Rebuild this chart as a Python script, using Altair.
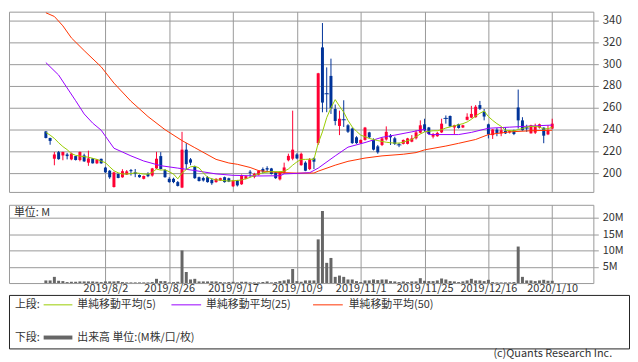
import altair as alt
import pandas as pd

# ---- data (price in yen, volume in millions) ----
idx = list(range(-14, 106))  # trading-day index, 0 = 2019/8/2

open_ = [238.4, 232.4, 213.4, 219.4, 216.4, 217.3, 212.8, 215.8, 212.2, 216.4, 209.8, 213.7, 209.2, 213.3,
         205.3, 202.4, 187.5, 199.4, 196.4, 198.9, 203.0, 201.0, 198.5, 195.0, 199.4, 198.0, 204.5, 215.8,
         203.0, 195.0, 195.0, 192.0, 187.0, 221.7, 212.8, 206.0, 196.5, 195.8, 196.5, 194.0, 192.0, 193.5,
         196.5, 195.5, 188.2, 193.5, 190.0, 195.0, 201.5, 197.0, 198.8, 203.9, 204.8, 204.5, 200.9, 194.5,
         200.9, 212.0, 213.4, 217.3, 207.5, 209.8, 203.9, 213.7, 227.7, 315.3, 273.4, 289.2, 258.9, 243.4,
         249.5, 244.0, 241.0, 233.0, 227.7, 230.6, 237.5, 230.6, 224.7, 226.0, 231.0, 234.5, 232.1, 226.6,
         227.0, 227.0, 229.0, 232.1, 237.2, 244.9, 242.0, 233.6, 234.0, 237.5, 250.8, 252.5, 242.0, 245.0,
         242.0, 249.0, 251.0, 251.4, 262.5, 256.5, 244.9, 235.0, 240.0, 236.6, 239.0, 237.5, 239.5, 260.3,
         248.5, 242.0, 236.6, 237.2, 241.9, 241.9, 235.7, 241.0]
close = [232.4, 229.7, 217.3, 213.0, 219.6, 215.8, 218.1, 212.2, 219.6, 211.0, 213.7, 209.2, 212.8, 209.2,
         200.9, 196.4, 200.9, 195.8, 202.0, 201.8, 202.0, 199.5, 196.5, 197.6, 197.4, 204.5, 213.4, 204.0,
         196.5, 192.0, 192.0, 188.5, 221.7, 208.4, 209.8, 195.6, 193.0, 193.5, 192.0, 191.0, 195.0, 195.6,
         192.0, 192.5, 193.5, 189.0, 198.0, 197.4, 200.5, 199.4, 202.4, 201.8, 203.5, 199.4, 195.6, 201.5,
         205.4, 216.0, 221.7, 213.7, 217.9, 202.4, 212.8, 210.7, 291.6, 264.8, 272.8, 259.5, 247.9, 250.0,
         249.0, 238.1, 227.7, 227.7, 230.6, 241.9, 233.0, 221.7, 219.3, 232.0, 238.0, 233.0, 227.0, 226.0,
         230.6, 232.0, 232.0, 237.5, 244.0, 239.5, 236.0, 236.0, 237.0, 245.5, 250.2, 243.0, 244.0, 241.5,
         244.0, 251.8, 254.4, 261.0, 259.2, 252.0, 235.7, 240.2, 237.0, 239.5, 236.6, 239.0, 236.0, 248.5,
         239.5, 241.4, 244.0, 242.5, 244.9, 234.5, 239.5, 245.5]
high = [238.8, 232.6, 219.6, 220.5, 219.8, 218.7, 219.0, 216.0, 220.0, 218.0, 220.8, 214.0, 213.0, 213.5,
        206.0, 203.0, 201.5, 200.0, 203.8, 203.0, 204.0, 204.0, 199.0, 198.0, 201.0, 205.0, 219.7, 219.4,
        204.0, 196.5, 196.0, 193.0, 238.0, 227.7, 214.0, 207.0, 197.0, 197.0, 197.5, 195.5, 195.5, 196.0,
        197.0, 196.0, 194.0, 194.0, 199.0, 198.0, 203.0, 200.5, 203.0, 205.4, 206.5, 205.0, 201.5, 202.0,
        209.8, 218.0, 257.4, 218.5, 219.0, 211.0, 214.0, 214.5, 292.0, 337.6, 297.0, 305.0, 263.0, 257.4,
        266.9, 245.0, 242.0, 234.0, 231.0, 242.5, 238.0, 232.0, 226.0, 233.0, 243.0, 236.0, 233.5, 228.0,
        231.0, 232.5, 235.0, 239.5, 248.5, 250.0, 242.5, 237.0, 238.0, 250.0, 253.0, 253.0, 244.5, 245.5,
        244.5, 255.0, 261.8, 262.5, 266.3, 258.9, 245.5, 240.5, 241.5, 242.5, 242.0, 239.5, 240.0, 276.7,
        251.4, 244.5, 244.5, 245.5, 245.5, 242.0, 244.0, 250.0]
low = [232.0, 226.2, 207.4, 212.5, 212.0, 212.8, 212.0, 211.8, 211.0, 210.5, 206.9, 209.0, 208.5, 208.8,
       200.5, 195.0, 187.0, 195.5, 196.0, 198.5, 198.0, 196.5, 196.0, 194.5, 196.5, 197.0, 204.0, 203.5,
       196.0, 191.4, 191.0, 188.0, 186.5, 203.9, 207.5, 195.0, 192.5, 192.5, 191.5, 189.5, 191.5, 193.0,
       191.5, 192.0, 187.5, 188.0, 189.5, 194.5, 196.5, 195.5, 198.0, 200.0, 201.0, 199.0, 195.0, 193.5,
       199.4, 211.0, 212.0, 213.0, 207.0, 202.0, 203.0, 203.9, 226.0, 255.9, 256.0, 254.4, 244.0, 235.0,
       242.5, 237.0, 227.0, 227.0, 227.0, 230.0, 232.0, 221.0, 218.0, 225.0, 230.0, 226.0, 226.0, 224.0,
       226.5, 226.5, 228.5, 231.0, 236.5, 238.0, 235.5, 232.0, 233.5, 237.0, 245.5, 242.5, 236.0, 241.0,
       241.5, 248.5, 250.5, 251.0, 258.0, 248.5, 232.0, 231.5, 234.0, 234.0, 236.0, 236.5, 235.0, 241.0,
       239.0, 238.0, 236.5, 236.0, 241.0, 227.6, 235.0, 240.5]
vol = [0.8, 0.8, 1.9, 0.7, 0.6, 0.3, 0.4, 0.4, 0.5, 0.5, 0.5, 0.5, 0.4, 0.3,
       0.5, 0.5, 0.5, 0.6, 0.3, 0.2, 0.2, 0.2, 0.2, 0.2, 0.2, 0.3, 1.3, 0.6,
       0.6, 0.2, 0.3, 0.4, 10.0, 3.4, 1.1, 1.3, 0.5, 0.5, 0.5, 0.5, 0.5, 0.3,
       0.2, 0.3, 0.4, 0.2, 0.4, 0.4, 0.2, 0.2, 0.2, 0.3, 0.5, 0.2, 0.3, 0.6,
       0.8, 1.1, 4.3, 0.6, 0.4, 0.8, 0.8, 0.8, 13.4, 22.1, 6.2, 7.7, 1.9, 2.3,
       1.9, 1.1, 1.1, 0.6, 0.3, 0.8, 0.8, 1.1, 0.9, 1.1, 1.1, 0.6, 0.5, 0.3,
       0.5, 0.3, 0.5, 0.5, 1.5, 0.7, 0.6, 0.6, 0.8, 1.4, 1.1, 0.6, 0.5, 0.3,
       0.5, 0.8, 1.3, 0.8, 0.8, 0.6, 1.0, 0.3, 0.2, 0.2, 0.2, 0.2, 0.3, 11.2,
       1.9, 0.8, 0.8, 0.6, 0.8, 1.0, 0.7, 0.7]
ma5 = [237.5, 235.0, 232.0, 228.0, 224.5, 221.7, 218.1, 216.5, 215.8, 215.3, 214.8, 213.8, 212.8, 211.2,
       209.8, 206.0, 202.4, 200.5, 199.4, 199.4, 199.8, 200.5, 200.0, 199.4, 199.2, 200.9, 203.9, 203.0,
       203.3, 201.5, 199.4, 195.0, 200.3, 203.5, 206.0, 206.5, 205.0, 200.5, 196.5, 195.0, 194.0, 193.8,
       193.3, 193.0, 193.2, 193.5, 194.0, 195.0, 196.3, 198.0, 199.5, 200.5, 201.2, 201.5, 201.6, 201.5,
       202.0, 204.0, 207.5, 210.5, 212.8, 212.8, 213.0, 212.8, 227.5, 238.0, 251.0, 260.0, 267.5, 261.5,
       256.0, 248.5, 242.5, 238.5, 235.0, 233.5, 232.0, 231.0, 230.0, 229.2, 228.5, 228.0, 227.7, 227.7,
       228.5, 230.0, 231.0, 233.6, 236.0, 238.0, 238.5, 239.0, 239.0, 240.0, 241.5, 242.5, 243.5, 244.5,
       245.5, 247.0, 249.5, 252.5, 255.0, 257.0, 252.0, 248.5, 245.5, 243.0, 239.5, 239.0, 239.0, 240.1,
       241.0, 242.5, 243.0, 243.0, 242.5, 240.5, 241.0, 242.0]
ma25_idx = [-14, -11, -9, -7, -5, -3, -1, 0, 2, 4, 6, 9, 13, 17, 21, 26, 30, 36, 41, 42, 45, 48, 50,
            54, 57, 61, 65, 68, 72, 75, 76, 83, 86, 90, 95, 100, 105]
ma25_val = [301.4, 290.0, 278.2, 266.5, 254.4, 246.0, 239.5, 234.0, 223.0, 219.5, 216.0, 211.3, 207.0,
            204.8, 202.6, 199.5, 198.2, 197.6, 197.8, 199.5, 200.0, 200.6, 204.8, 216.0, 224.0, 228.2,
            233.0, 235.0, 238.0, 240.3, 235.5, 235.5, 237.5, 241.3, 242.3, 243.3, 244.2]
ma50_idx = [-14, -12, -10, -8, -5, -1, 2, 6, 10, 14, 18, 21, 26, 29, 31, 34, 36, 40, 45, 49, 50, 54,
            57, 61, 65, 70, 73, 75, 80, 83, 87, 90, 95, 100, 105]
ma50_val = [347.0, 343.6, 335.0, 324.0, 312.4, 297.5, 282.6, 266.0, 252.0, 240.0, 230.0, 223.5, 212.8,
            209.5, 208.3, 205.4, 202.5, 201.0, 200.2, 200.3, 202.0, 207.5, 211.0, 214.0, 216.0, 217.5,
            219.0, 221.5, 225.0, 227.5, 231.0, 235.5, 238.0, 239.0, 239.5]

tick_idx = [0, 15, 30, 45, 60, 75, 90, 105]
tick_labels = ["2019/8/2", "2019/8/26", "2019/9/17", "2019/10/9", "2019/11/1",
               "2019/11/25", "2019/12/16", "2020/1/10"]
price_ticks = [200, 220, 240, 260, 280, 300, 320, 340]
vol_ticks = [5, 10, 15, 20]

legend_top = "上段:"
legend_bottom = "下段:"
ma_names = ["単純移動平均(5)", "単純移動平均(25)", "単純移動平均(50)"]
vol_name = "出来高 単位:(M株/口/枚)"
unit_label = "単位: M"
copyright_text = "(c)Quants Research Inc."

# ---- styles ----
RED, BLUE = "#ff0033", "#003399"
C5, C25, C50 = "#99cc00", "#9900ff", "#ff3300"
GRID = "#999999"
TXT = "#333333"
FONT = "Noto Sans CJK JP"

df = pd.DataFrame(dict(idx=idx, open=open_, high=high, low=low, close=close, vol=vol, ma5=ma5))
df25 = pd.DataFrame(dict(idx=ma25_idx, val=ma25_val))
df50 = pd.DataFrame(dict(idx=ma50_idx, val=ma50_val))

xscale = alt.Scale(domain=[-21.5, 113.5], nice=False, zero=False)
label_expr = ("[" + ",".join(f"'{s}'" for s in tick_labels) + "][indexof(["
              + ",".join(str(v) for v in tick_idx) + "], datum.value)]")

x_axis_main = alt.Axis(values=tick_idx, labels=False, ticks=False, domain=False,
                       grid=True, gridColor=GRID, gridOpacity=1, title=None)
yscale = alt.Scale(domain=[183, 348], nice=False, zero=False)
y_axis = alt.Axis(orient="right", values=price_ticks, tickCount=8, grid=True, gridColor=GRID,
                  gridOpacity=1, tickColor=GRID, tickSize=5, domain=False, labelFontSize=11.5,
                  labelColor=TXT, labelPadding=4, labelOverlap=False, labelFlush=False, title=None)
color_cond = alt.condition("datum.close >= datum.open", alt.value(RED), alt.value(BLUE))


def X():
    return alt.X("idx:Q", scale=xscale, axis=x_axis_main)


def Y(field):
    return alt.Y(field, type="quantitative", scale=yscale, axis=y_axis)


base = alt.Chart(df)
wick = base.mark_rule(strokeWidth=1).encode(x=X(), y=Y("low"), y2="high:Q", color=color_cond)
body = base.mark_bar(size=3, strokeWidth=0).encode(x=X(), y=Y("open"), y2="close:Q",
                                                   color=color_cond)
cross = base.transform_filter("abs(datum.open - datum.close) < 1").mark_tick(
    orient="horizontal", size=5, thickness=1).encode(x=X(), y=Y("close"), color=color_cond)
line50 = alt.Chart(df50).mark_line(color=C50, strokeWidth=1).encode(x=X(), y=Y("val"))
line25 = alt.Chart(df25).mark_line(color=C25, strokeWidth=1).encode(x=X(), y=Y("val"))
line5 = base.mark_line(color=C5, strokeWidth=1).encode(x=X(), y=Y("ma5"))

main = alt.layer(wick, body, cross, line50, line25, line5).properties(
    width=590, height=182, view=alt.ViewBackground(stroke=GRID))

vbars = base.mark_bar(size=3, color="#666666").encode(
    x=alt.X("idx:Q", scale=xscale,
            axis=alt.Axis(values=tick_idx, labelExpr=label_expr, ticks=False, tickSize=0,
                          domain=False, grid=True, gridColor=GRID, gridOpacity=1,
                          labelFontSize=11, labelColor=TXT, labelBaseline="middle",
                          labelPadding=6, labelOverlap=False, title=None)),
    y=alt.Y("vol:Q", scale=alt.Scale(domain=[0, 24], nice=False),
            axis=alt.Axis(orient="right", values=vol_ticks, labelExpr="datum.value + 'M'",
                          grid=True, gridColor=GRID, gridOpacity=1, tickColor=GRID, tickSize=5,
                          domain=False, labelFontSize=11, labelColor=TXT, labelPadding=4,
                          labelOverlap=False, labelFlush=False, title=None)))
unit = alt.Chart(pd.DataFrame({"t": [unit_label]})).mark_text(
    align="left", baseline="middle", fontSize=11, color=TXT).encode(
    text="t:N", x=alt.value(5), y=alt.value(8))
volume = alt.layer(vbars, unit).properties(width=590, height=79,
                                           view=alt.ViewBackground(stroke=GRID))


def txt(s, x, y, align="left"):
    return alt.Chart(pd.DataFrame({"t": [s]})).mark_text(
        align=align, baseline="middle", fontSize=11, color=TXT).encode(
        text="t:N", x=alt.value(x), y=alt.value(y))


def seg(color, x1, x2, y, w=1):
    return alt.Chart(pd.DataFrame({"t": [0]})).mark_rule(color=color, strokeWidth=w).encode(
        x=alt.value(x1), x2=alt.value(x2), y=alt.value(y))


legend = alt.layer(
    txt(legend_top, 6, 10),
    seg(C5, 35, 64, 10), txt(ma_names[0], 69, 10),
    seg(C25, 164, 194, 10), txt(ma_names[1], 199, 10),
    seg(C50, 307, 337, 10), txt(ma_names[2], 343, 10),
    txt(legend_bottom, 6, 43),
    seg("#666666", 35, 64, 43, 4), txt(vol_name, 69, 43),
    txt(copyright_text, 609, 60, "right"),
).properties(width=626, height=54, view=alt.ViewBackground(stroke="#222222"))

chart = alt.vconcat(alt.vconcat(main, volume, spacing=11), legend, spacing=-3).properties(
    padding=0).configure(font=FONT)

chart.save("out.html", embed_options={"renderer": "svg", "actions": False})
